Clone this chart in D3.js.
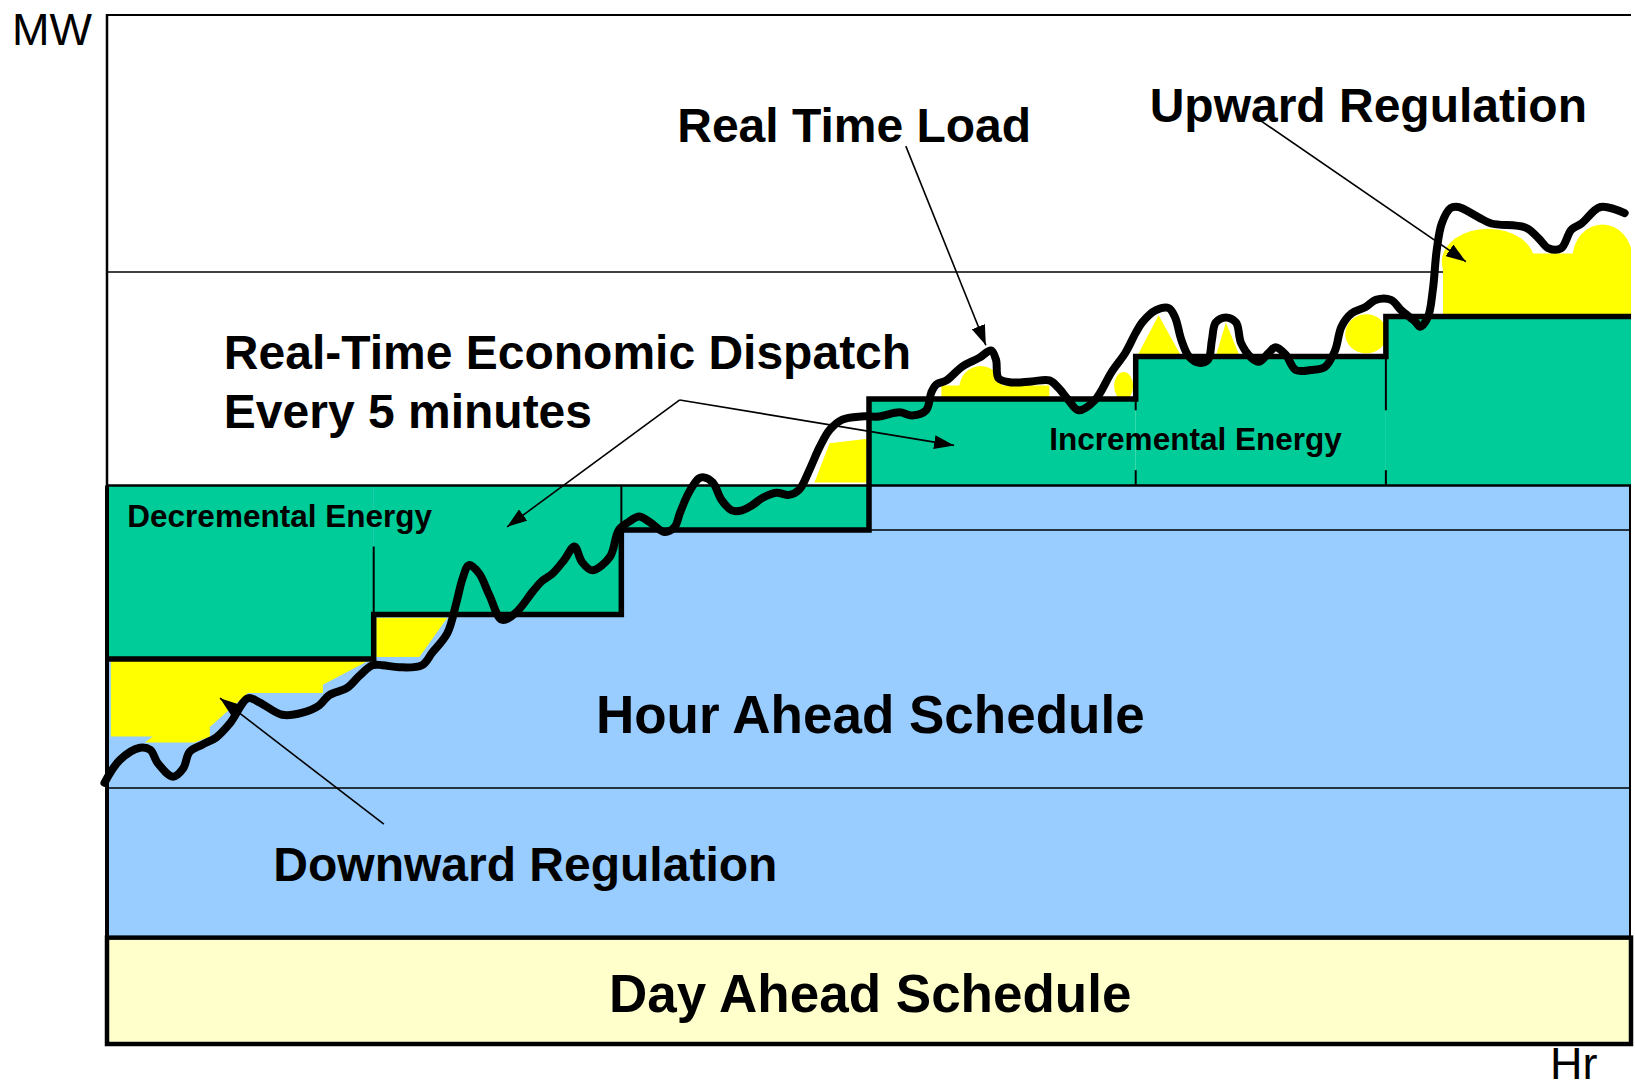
<!DOCTYPE html>
<html>
<head>
<meta charset="utf-8">
<script src="https://cdn.jsdelivr.net/npm/d3@7"></script>
<style>
body { margin: 0; background: #fff; }
text { font-family: "Liberation Sans", Arial, sans-serif; }
</style>
</head>
<body>
<div class="chart"></div>
<script>
var width = 1635, height = 1083;
var margin = {top: 14, right: 2, bottom: 37, left: 107};

// x = minutes over two hours, y = MW (relative units)
var stepStart = [0, 21, 40.5, 60, 81, 100.7];
var stepMW = [37.5, 41.8, 50, 62.7, 66.8, 70.7];
var hourAheadMW = 54.3;
var dayAheadMW = 10.5;
var gridMW = [75, 25];

// real time load
var loadLine = [
  [-0.2,25.5],[1.0,27.7],[2.6,28.9],[3.4,28.7],[4.0,27.4],[5.2,26.1],[6.0,26.9],[6.5,28.5],
  [7.5,29.2],[8.6,29.9],[9.7,31.3],[11.1,33.7],[12.0,33.3],[13.8,32.1],[15.4,32.3],[16.7,33.0],
  [17.5,34.0],[18.9,34.7],[19.9,35.9],[20.9,36.9],[21.7,36.9],[23.0,36.7],[24.8,36.9],[25.6,38.1],
  [26.8,40.0],[27.5,42.9],[28.0,45.3],[28.5,46.6],[29.3,45.8],[30.1,43.7],[31.1,41.3],[32.2,42.0],
  [33.5,44.0],[34.2,45.0],[35.1,45.8],[36.0,47.1],[36.8,48.4],[37.4,46.9],[38.2,46.1],[39.6,47.4],
  [40.3,50.0],[41.1,50.8],[41.9,51.3],[42.7,50.8],[43.9,49.8],[44.7,50.3],[45.1,51.6],[45.8,53.6],
  [46.6,55.0],[47.0,55.1],[47.7,54.6],[48.4,52.9],[49.2,51.9],[50.0,51.9],[50.8,52.4],[51.6,53.1],
  [52.7,53.6],[53.7,53.4],[54.5,53.9],[55.3,55.8],[56.1,58.0],[56.9,59.7],[57.9,60.7],[59.4,61.0],
  [60.8,61.0],[62.4,61.4],[63.4,61.1],[64.5,61.6],[64.9,63.3],[65.3,64.1],[66.1,64.5],[67.3,65.8],
  [68.7,66.7],[69.6,67.4],[70.0,66.5],[70.2,64.7],[71.2,64.3],[72.8,64.4],[74.2,64.5],[74.9,63.8],
  [75.7,62.6],[76.5,61.6],[77.8,62.6],[79.1,65.3],[80.2,67.2],[81.0,69.1],[81.5,70.1],[82.6,71.3],
  [83.6,71.5],[84.1,70.6],[84.6,68.4],[85.2,66.8],[86.0,66.2],[86.7,66.5],[87.0,68.4],[87.3,70.1],
  [88.1,70.6],[88.9,70.1],[89.3,68.1],[90.1,66.7],[90.7,66.3],[91.5,67.2],[92.0,67.7],[92.8,67.0],
  [93.6,65.5],[94.8,65.5],[95.9,65.8],[96.7,67.4],[97.2,69.7],[98.0,71.0],[99.1,71.6],[99.9,72.3],
  [101.1,72.3],[101.9,71.3],[103.0,70.2],[103.4,69.7],[104.0,70.6],[104.4,73.3],[104.7,77.1],
  [105.1,79.7],[105.8,81.2],[106.4,81.3],[108.0,80.3],[109.0,79.7],[111.7,79.3],[112.7,78.3],
  [113.5,77.3],[114.5,77.3],[115.3,79.1],[116.1,79.7],[117.6,81.3],[119.5,80.7]
];

// regulation (yellow) areas
var regPolys = [
  [[0.3,37.4],[20.7,37.4],[17.0,35.0],[17.0,34.2],[11.1,34.2],[8.1,30.9],[8.1,30.0],[6.9,29.4],[3.0,29.4],[3.6,30.0],[0.3,30.0]],
  [[21.2,41.5],[26.8,41.5],[24.6,37.7],[21.2,37.7]],
  [[55.7,54.6],[56.9,58.4],[60.2,58.9],[59.8,57.8],[59.8,54.6]],
  [[65.7,62.8],[74.2,62.8],[74.2,64.0],[65.7,64.0]],
  [[81.1,66.8],[82.8,70.8],[84.6,66.8]],
  [[87.3,66.8],[88.1,70.1],[89.2,66.8]],
  [[105.2,70.9],[120,70.9],[120,76.8],[105.2,76.8]]
];
// blobs given as [minute from, minute to, MW from, MW to]
var regBlobs = [
  [67.1,70.5,61.5,65.9],
  [79.3,80.8,62.6,65.3],
  [97.5,100.8,67.1,70.9],
  [105.1,112.4,72.8,79.2],
  [115.4,120.1,73.2,79.6]
];

// boundary marks: [minute, MW from, MW to]
var tickMarks = [
  [21, 48.4, 41.8],
  [40.5, 54.3, 50],
  [81, 62.7, 61.6], [81, 55.8, 54.3],
  [100.7, 70.7, 61.6], [100.7, 55.8, 54.3]
];

var x = d3.scaleLinear().domain([0, 120]).range([margin.left, width - margin.right - 2]);
var y = d3.scaleLinear().domain([0, 100]).range([height - margin.bottom, margin.top]);

var svg = d3.select(".chart").append("svg")
  .attr("width", width)
  .attr("height", height);

var defs = svg.append("defs");
defs.append("clipPath").attr("id", "frame")
  .append("rect")
  .attr("x", x(0)).attr("y", y(100))
  .attr("width", x(120) - x(0)).attr("height", y(0) - y(100));
defs.append("marker")
  .attr("id", "head")
  .attr("markerUnits", "userSpaceOnUse")
  .attr("viewBox", "0 0 20 14")
  .attr("refX", 20).attr("refY", 7)
  .attr("markerWidth", 20).attr("markerHeight", 14)
  .attr("orient", "auto")
  .append("path").attr("d", "M0,0L20,7L0,14Z").attr("fill", "#000");

var plot = svg.append("g").attr("clip-path", "url(#frame)");

// top frame and upper grid line
plot.append("line")
  .attr("x1", x(0)).attr("x2", x(120)).attr("y1", y(100) + 1).attr("y2", y(100) + 1)
  .attr("stroke", "#000").attr("stroke-width", 2);
plot.append("line")
  .attr("x1", x(0)).attr("x2", x(120)).attr("y1", y(gridMW[0])).attr("y2", y(gridMW[0]))
  .attr("stroke", "#000").attr("stroke-width", 1.5);

// hour ahead schedule
plot.append("rect")
  .attr("x", x(0)).attr("y", y(hourAheadMW))
  .attr("width", x(120) - x(0)).attr("height", y(dayAheadMW) - y(hourAheadMW))
  .attr("fill", "#99CCFF");
plot.append("line")
  .attr("x1", x(120) - 1).attr("x2", x(120) - 1).attr("y1", y(hourAheadMW)).attr("y2", y(dayAheadMW))
  .attr("stroke", "#000").attr("stroke-width", 2);

// regulation
plot.selectAll(".reg").data(regPolys).enter().append("path")
  .attr("class", "reg")
  .attr("d", function(d) { return "M" + d.map(function(p) { return x(p[0]) + "," + y(p[1]); }).join("L") + "Z"; })
  .attr("fill", "#FFFF00");
plot.selectAll(".blob").data(regBlobs).enter().append("ellipse")
  .attr("class", "blob")
  .attr("cx", function(d) { return x((d[0] + d[1]) / 2); })
  .attr("cy", function(d) { return y((d[2] + d[3]) / 2); })
  .attr("rx", function(d) { return (x(d[1]) - x(d[0])) / 2; })
  .attr("ry", function(d) { return (y(d[2]) - y(d[3])) / 2; })
  .attr("fill", "#FFFF00");

// incremental / decremental energy
plot.selectAll(".energy").data(stepStart).enter().append("rect")
  .attr("class", "energy")
  .attr("x", function(d) { return x(d); })
  .attr("width", function(d, i) { return x(i < stepStart.length - 1 ? stepStart[i + 1] : 120) - x(d); })
  .attr("y", function(d, i) { return y(Math.max(stepMW[i], hourAheadMW)); })
  .attr("height", function(d, i) { return Math.abs(y(stepMW[i]) - y(hourAheadMW)); })
  .attr("fill", "#00CC99");

// thin lines
plot.append("line")
  .attr("x1", x(0)).attr("x2", x(120)).attr("y1", y(hourAheadMW)).attr("y2", y(hourAheadMW))
  .attr("stroke", "#000").attr("stroke-width", 2.5);
plot.append("line")
  .attr("x1", x(0)).attr("x2", x(120)).attr("y1", y(gridMW[1])).attr("y2", y(gridMW[1]))
  .attr("stroke", "#000").attr("stroke-width", 1.5);
plot.append("line")
  .attr("x1", x(60)).attr("x2", x(120)).attr("y1", y(50)).attr("y2", y(50))
  .attr("stroke", "#000").attr("stroke-width", 1.5);
plot.selectAll(".tick").data(tickMarks).enter().append("line")
  .attr("x1", function(d) { return x(d[0]); }).attr("x2", function(d) { return x(d[0]); })
  .attr("y1", function(d) { return y(d[1]); }).attr("y2", function(d) { return y(d[2]); })
  .attr("stroke", "#000").attr("stroke-width", 2);

// day ahead schedule
svg.append("rect")
  .attr("x", x(0)).attr("y", y(dayAheadMW))
  .attr("width", x(120) - x(0)).attr("height", y(0) - y(dayAheadMW) - 2)
  .attr("fill", "#FFFFCC").attr("stroke", "#000").attr("stroke-width", 4.5);

// left axis line
svg.append("line")
  .attr("x1", x(0)).attr("x2", x(0)).attr("y1", y(100)).attr("y2", y(0))
  .attr("stroke", "#000").attr("stroke-width", 2.5);
svg.append("line")
  .attr("x1", x(0)).attr("x2", x(0)).attr("y1", y(hourAheadMW)).attr("y2", y(0))
  .attr("stroke", "#000").attr("stroke-width", 4);

// 5-minute dispatch steps
var steps = stepStart.map(function(d, i) { return [d, stepMW[i]]; });
steps.push([120, stepMW[stepMW.length - 1]]);
plot.append("path")
  .datum(steps)
  .attr("d", d3.line().x(function(d) { return x(d[0]); }).y(function(d) { return y(d[1]); }).curve(d3.curveStepAfter))
  .attr("fill", "none").attr("stroke", "#000").attr("stroke-width", 5.5);

// real time load
svg.append("path")
  .datum(loadLine)
  .attr("d", d3.line().x(function(d) { return x(d[0]); }).y(function(d) { return y(d[1]); }).curve(d3.curveCatmullRom.alpha(0.5)))
  .attr("fill", "none").attr("stroke", "#000").attr("stroke-width", 8)
  .attr("stroke-linejoin", "round").attr("stroke-linecap", "round");

// labels
function label(txt, mx, my, size, bold, anchor) {
  svg.append("text")
    .attr("x", x(mx)).attr("y", y(my))
    .attr("font-size", size)
    .attr("font-weight", bold ? "bold" : "normal")
    .attr("text-anchor", anchor || "start")
    .attr("fill", "#000")
    .text(txt);
}
label("Real Time Load", 44.9, 87.6, 48, true);
label("Upward Regulation", 82.1, 89.5, 48, true);
label("Real-Time Economic Dispatch", 9.2, 65.6, 48, true);
label("Every 5 minutes", 9.2, 59.9, 48, true);
label("Decremental Energy", 1.6, 50.3, 31.5, true);
label("Incremental Energy", 74.2, 57.8, 31.5, true);
label("Hour Ahead Schedule", 60.1, 30.3, 53, true, "middle");
label("Downward Regulation", 13.1, 16.0, 48, true);
label("Day Ahead Schedule", 60.1, 3.3, 53, true, "middle");

svg.append("text").attr("x", 12).attr("y", 45).attr("font-size", 45).text("MW");
svg.append("text").attr("x", 1550).attr("y", 1079).attr("font-size", 45).text("Hr");

// arrows
function arrow(x0, y0, x1, y1) {
  svg.append("line")
    .attr("x1", x(x0)).attr("y1", y(y0)).attr("x2", x(x1)).attr("y2", y(y1))
    .attr("stroke", "#000").attr("stroke-width", 1.6)
    .attr("marker-end", "url(#head)");
}
arrow(62.9, 87.2, 69.2, 67.9);
arrow(90.8, 89.7, 107.0, 76.0);
arrow(45.1, 62.6, 31.5, 50.3);
arrow(45.1, 62.6, 66.7, 58.2);
arrow(21.8, 21.5, 8.9, 33.7);
</script>
</body>
</html>
